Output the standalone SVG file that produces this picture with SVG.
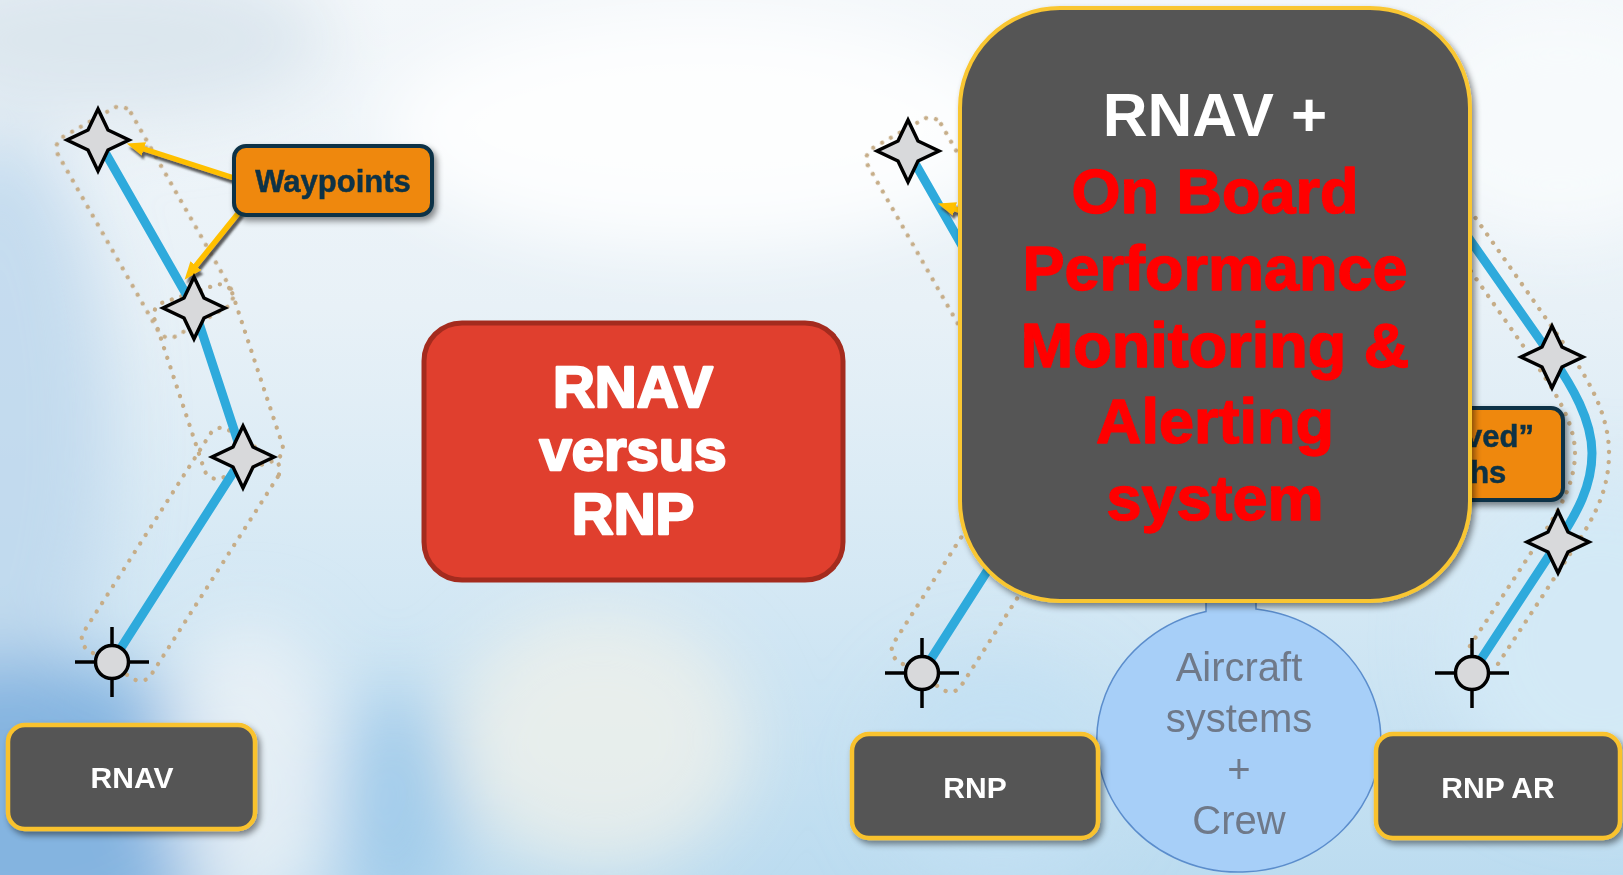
<svg xmlns="http://www.w3.org/2000/svg" width="1623" height="875" viewBox="0 0 1623 875">
  <defs>
    <linearGradient id="sky" x1="0" y1="0" x2="0" y2="1">
      <stop offset="0" stop-color="#f3f7fa"/>
      <stop offset="0.35" stop-color="#e8f1f7"/>
      <stop offset="0.7" stop-color="#d2e7f4"/>
      <stop offset="1" stop-color="#bcdcf0"/>
    </linearGradient>
    <filter id="haze" x="-50%" y="-50%" width="200%" height="200%">
      <feGaussianBlur stdDeviation="35"/>
    </filter>
    <filter id="shadow" x="-10%" y="-10%" width="130%" height="130%">
      <feDropShadow dx="3" dy="4" stdDeviation="3" flood-color="#000" flood-opacity="0.45"/>
    </filter>
    <filter id="arrowShadow" x="-20%" y="-20%" width="150%" height="150%">
      <feDropShadow dx="2" dy="4" stdDeviation="0.8" flood-color="#404040" flood-opacity="0.85"/>
    </filter>
    <marker id="head" viewBox="0 0 18 14" refX="3" refY="7" markerWidth="18" markerHeight="14" markerUnits="userSpaceOnUse" orient="auto">
      <path d="M0,0 L18,7 L0,14 Z" fill="#ffc000"/>
    </marker>
    <path id="star" d="M0,-31 L10,-10 L31,0 L10,10 L0,31 L-10,10 L-31,0 L-10,-10 Z" fill="#d8d9db" stroke="#000" stroke-width="3.5"/>
    <g id="fix">
      <line x1="-37" y1="0" x2="37" y2="0" stroke="#000" stroke-width="3.5"/>
      <line x1="0" y1="-35" x2="0" y2="35" stroke="#000" stroke-width="3.5"/>
      <circle r="16.5" fill="#d8d9db" stroke="#000" stroke-width="3.5"/>
    </g>
    <style>
      .corridor { fill: none; stroke: #c6ad88; stroke-width: 4.3; stroke-dasharray: 0.1 10; stroke-linecap: round; }
      .track { fill: none; stroke: #2eaadc; stroke-width: 9; stroke-linejoin: round; }
      .pointer { fill: none; stroke: #ffc000; stroke-width: 5.5; marker-end: url(#head); }
      .callout { fill: #ef880b; stroke: #0c3346; stroke-width: 4; }
      .callout-text { font-family: "Liberation Sans", Arial, sans-serif; font-weight: bold; font-size: 31px; fill: #0c3346; stroke: #0c3346; stroke-width: 0.5; text-anchor: middle; }
      .type-box { fill: #555555; stroke: #f9c22e; stroke-width: 4.5; }
      .type-text { font-family: "Liberation Sans", Arial, sans-serif; font-weight: bold; font-size: 30px; fill: #ffffff; text-anchor: middle; }
      .title-text { font-family: "Liberation Sans", Arial, sans-serif; font-weight: bold; font-size: 58px; fill: #ffffff; stroke: #ffffff; stroke-width: 2.5; stroke-linejoin: round; text-anchor: middle; }
      .obpma-white { font-family: "Liberation Sans", Arial, sans-serif; font-weight: bold; font-size: 62px; fill: #ffffff; text-anchor: middle; }
      .obpma-red { font-family: "Liberation Sans", Arial, sans-serif; font-weight: bold; font-size: 63px; fill: #ff0000; stroke: #ff0000; stroke-width: 1.5; stroke-linejoin: round; text-anchor: middle; }
      .crew-text { font-family: "Liberation Sans", Arial, sans-serif; font-size: 40px; fill: #6f7989; text-anchor: middle; }
    </style>
  </defs>

  <!-- sky background -->
  <g id="background">
    <rect x="0" y="0" width="1623" height="875" fill="url(#sky)"/>
    <g filter="url(#haze)">
      <ellipse cx="110" cy="40" rx="220" ry="80" fill="#dbe6ee"/>
      <ellipse cx="0" cy="430" rx="110" ry="300" fill="#bcd6ec" opacity="0.8"/>
      <ellipse cx="30" cy="810" rx="210" ry="150" fill="#84b4e0"/>
      <ellipse cx="250" cy="770" rx="90" ry="150" fill="#eef3f6" opacity="0.8"/>
      <ellipse cx="395" cy="810" rx="60" ry="120" fill="#a0cbea"/>
      <ellipse cx="600" cy="740" rx="150" ry="130" fill="#f1f1ea" opacity="0.75"/>
      <ellipse cx="700" cy="130" rx="320" ry="120" fill="#ffffff" opacity="0.85"/>
      <ellipse cx="1000" cy="770" rx="120" ry="110" fill="#c3e0f3"/>
      <ellipse cx="1600" cy="640" rx="150" ry="160" fill="#d3e9f6"/>
      <ellipse cx="1560" cy="120" rx="160" ry="120" fill="#f7fafc"/>
    </g>
  </g>

  <!-- connectors: protected corridors, tracks and label pointers -->
  <g id="connectors">
    <g id="rnav-corridor">
      <rect class="corridor" x="-20" y="-42" width="229" height="84" rx="13" transform="translate(98,140) rotate(60.4)"/>
      <rect class="corridor" x="-15" y="-41" width="185" height="82" rx="13" transform="translate(194,308) rotate(71.7)"/>
      <rect class="corridor" x="-15" y="-40" width="261" height="80" rx="13" transform="translate(243,457) rotate(122.6)"/>
    </g>
    <g id="rnp-corridor" transform="translate(810,11)">
      <rect class="corridor" x="-20" y="-42" width="229" height="84" rx="13" transform="translate(98,140) rotate(60.4)"/>
      <rect class="corridor" x="-15" y="-41" width="185" height="82" rx="13" transform="translate(194,308) rotate(71.7)"/>
      <rect class="corridor" x="-15" y="-40" width="261" height="80" rx="13" transform="translate(243,457) rotate(122.6)"/>
    </g>
    <g id="rnp-ar-corridor">
      <path class="corridor" d="M1435,160 L1566,347 C1589,380 1609,415 1609,453 C1609,491 1594,518 1572,551 L1496,667"/>
      <path class="corridor" d="M1407,180 L1538,367 C1555,392 1575,423 1575,453 C1575,483 1560,508 1544,533 L1468,649"/>
    </g>

    <path id="rnav-track" class="track" d="M98,140 L194,308 L243,457 L112,662"/>
    <path id="rnp-track" class="track" d="M908,151 L1004,319 L1053,468 L922,673"/>
    <path id="rnp-ar-track" class="track" d="M1421,170 L1552,357 C1572,386 1592,420 1592,453 C1592,486 1577,513 1558,542 L1472,673"/>

    <g id="pointers" filter="url(#arrowShadow)">
      <path class="pointer" d="M234,178 L141,148"/>
      <path class="pointer" d="M240,211 L194,268"/>
      <path class="pointer" d="M990,220 L952,208"/>
    </g>
  </g>

  <!-- waypoints and final approach fixes -->
  <g id="rnav-wp1"><use href="#star" x="98" y="140"/></g>
  <g id="rnav-wp2"><use href="#star" x="194" y="308"/></g>
  <g id="rnav-wp3"><use href="#star" x="243" y="457"/></g>
  <g id="rnav-fix"><use href="#fix" x="112" y="662"/></g>

  <g id="rnp-wp1"><use href="#star" x="908" y="151"/></g>
  <g id="rnp-fix"><use href="#fix" x="922" y="673"/></g>

  <g id="rnp-ar-wp1"><use href="#star" x="1552" y="357"/></g>
  <g id="rnp-ar-wp2"><use href="#star" x="1558" y="542"/></g>
  <g id="rnp-ar-fix"><use href="#fix" x="1472" y="673"/></g>

  <!-- callout labels -->
  <g id="label-waypoints" filter="url(#shadow)">
    <rect class="callout" x="234" y="146" width="198" height="69" rx="12"/>
    <text class="callout-text" x="333" y="192">Waypoints</text>
  </g>
  <g id="label-curved" filter="url(#shadow)">
    <rect class="callout" x="1367" y="408" width="196" height="92" rx="12"/>
    <text class="callout-text" x="1465" y="447">“Curved”</text>
    <text class="callout-text" x="1465" y="483">paths</text>
  </g>

  <!-- central title -->
  <g id="title">
    <rect x="424" y="323" width="419" height="257" rx="38" fill="#e03f2e" stroke="#a42b1e" stroke-width="5"/>
    <text class="title-text" x="633" y="407">RNAV</text>
    <text class="title-text" x="633" y="470">versus</text>
    <text class="title-text" x="633" y="534">RNP</text>
  </g>

  <!-- aircraft systems + crew bubble -->
  <g id="aircraft-crew">
    <path d="M1206,590 L1206,611.6 A142,132 0 1 0 1256,609 L1256,590 Z" fill="#a7cff8" stroke="#5b8dcc" stroke-width="1.5"/>
    <text class="crew-text" x="1239" y="681">Aircraft</text>
    <text class="crew-text" x="1239" y="732">systems</text>
    <text class="crew-text" x="1239" y="783">+</text>
    <text class="crew-text" x="1239" y="834">Crew</text>
  </g>

  <!-- specification boxes -->
  <g id="box-rnav" filter="url(#shadow)">
    <rect class="type-box" x="8" y="725" width="247" height="104" rx="17"/>
    <text class="type-text" x="132" y="788">RNAV</text>
  </g>
  <g id="box-rnp" filter="url(#shadow)">
    <rect class="type-box" x="852" y="734" width="246" height="104" rx="17"/>
    <text class="type-text" x="975" y="798">RNP</text>
  </g>
  <g id="box-rnp-ar" filter="url(#shadow)">
    <rect class="type-box" x="1376" y="734" width="244" height="104" rx="17"/>
    <text class="type-text" x="1498" y="798">RNP AR</text>
  </g>

  <!-- on board performance monitoring panel -->
  <g id="obpma" filter="url(#shadow)">
    <rect x="960" y="8" width="510" height="593" rx="100" fill="#555555" stroke="#f9c631" stroke-width="4"/>
    <text class="obpma-white" x="1215" y="136">RNAV +</text>
    <text class="obpma-red" x="1215" y="213">On Board</text>
    <text class="obpma-red" x="1215" y="290">Performance</text>
    <text class="obpma-red" x="1215" y="367">Monitoring &amp;</text>
    <text class="obpma-red" x="1215" y="443">Alerting</text>
    <text class="obpma-red" x="1215" y="520">system</text>
  </g>
</svg>
